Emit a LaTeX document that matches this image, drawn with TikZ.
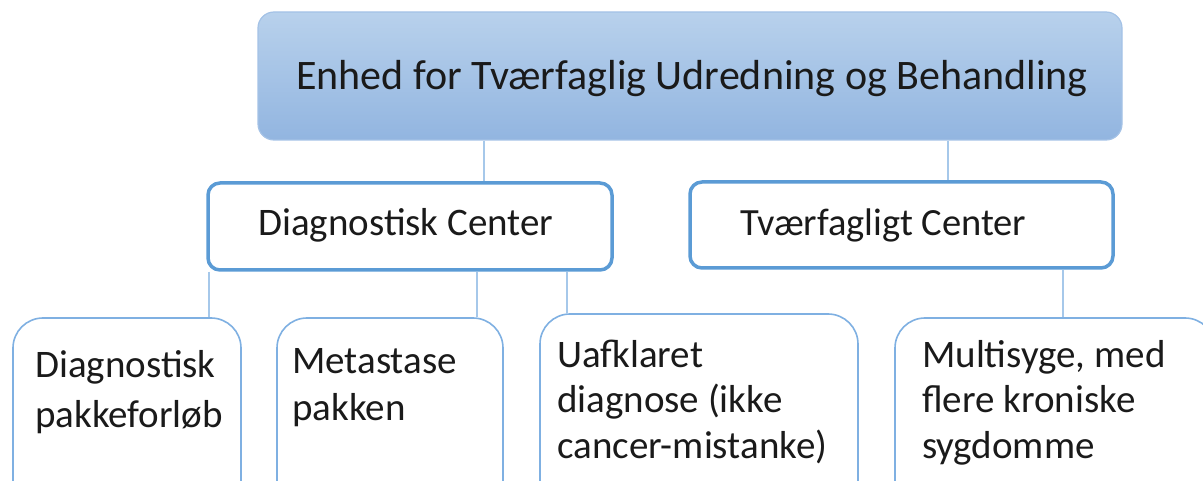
\documentclass[tikz,border=0pt]{standalone}
\usepackage{fontspec}
\setmainfont{Carlito}
\definecolor{topA}{HTML}{B8D1EC}
\definecolor{topB}{HTML}{92B5E0}
\definecolor{topline}{HTML}{A4C2E6}
\definecolor{midline}{HTML}{5B9BD5}
\definecolor{lowline}{HTML}{7FB0E2}
\definecolor{conn}{HTML}{A6C8EA}
\definecolor{txt}{HTML}{1A1A1A}
\tikzset{
  topbox/.style={draw=topline, line width=1.2pt, rounded corners=16pt, top color=topA, bottom color=topB, inner sep=0pt},
  midbox/.style={draw=midline, line width=3.5pt, rounded corners=12pt, fill=white, inner sep=0pt},
  lowbox/.style={draw=lowline, line width=1.6pt, rounded corners=30pt, fill=white, inner sep=0pt},
  conline/.style={draw=conn, line width=1.6pt},
  lbl/.style={inner sep=0pt, text=txt, align=left},
}
\begin{document}
\begin{tikzpicture}[x=1pt,y=-1pt]
\useasboundingbox (0,0) rectangle (1203,481);
\node[topbox, minimum width=864pt, minimum height=128pt] (top) at (690,76) {};
\node[midbox, minimum width=404pt, minimum height=87pt] (dc) at (410,226.5) {};
\node[midbox, minimum width=423pt, minimum height=86pt] (tc) at (901.5,225) {};
\node[lowbox, minimum width=228pt, minimum height=202pt] (b1) at (127,419) {};
\node[lowbox, minimum width=226pt, minimum height=202pt] (b2) at (390,419) {};
\node[lowbox, minimum width=318pt, minimum height=206pt] (b3) at (699,417) {};
\node[lowbox, minimum width=320pt, minimum height=202pt] (b4) at (1055,419) {};
\draw[conline] (top.south -| 484,0) -- (dc.north -| 484,0);
\draw[conline] (top.south -| 948,0) -- (tc.north -| 948,0);
\draw[conline] (dc.south -| 209,0) -- (b1.north -| 209,0);
\draw[conline] (dc.south -| 477,0) -- (b2.north -| 477,0);
\draw[conline] (dc.south -| 567,0) -- (b3.north -| 567,0);
\draw[conline] (tc.south -| 1063,0) -- (b4.north -| 1063,0);
% texts (base anchor = baseline of the last line)
\node[lbl, anchor=base west, font=\fontsize{42}{48}\selectfont] (ttop) at (296,90) {Enhed for Tværfaglig Udredning og Behandling};
\node[lbl, anchor=base west, font=\fontsize{39}{44}\selectfont] (tdc) at (258,236) {Diagnostisk Center};
\node[lbl, anchor=base west, font=\fontsize{38.5}{44}\selectfont] (ttc) at (740,236) {Tværfagligt Center};
\node[lbl, anchor=base west, font=\fontsize{39}{50}\selectfont] (t1) at (35,427) {Diagnostisk\\pakkeforløb};
\node[lbl, anchor=base west, font=\fontsize{39}{47}\selectfont] (t2) at (292,420) {Metastase\\pakken};
\node[lbl, anchor=base west, font=\fontsize{39}{45.5}\selectfont] (t3) at (557,458) {Uafklaret\\diagnose (ikke\\cancer-mistanke)};
\node[lbl, anchor=base west, font=\fontsize{39}{45.5}\selectfont] (t4) at (922,458) {Multisyge, med\\flere kroniske\\sygdomme};
\end{tikzpicture}
\end{document}
